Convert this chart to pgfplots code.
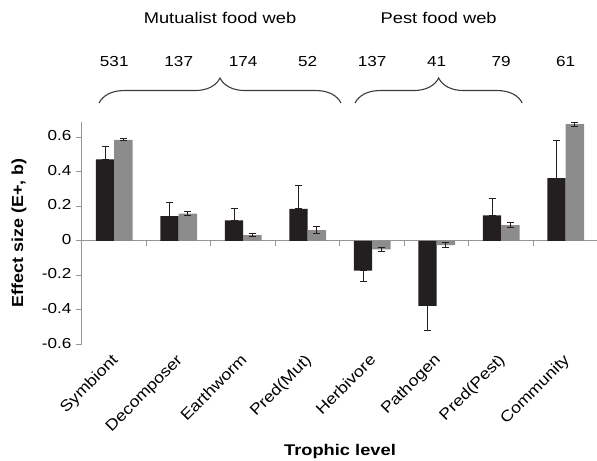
\documentclass[border=0pt]{standalone}
\usepackage{pgfplots}
\pgfplotsset{compat=1.18}
\usepackage{fontspec}
\setmainfont{Liberation Sans}
\newfontfamily\wide{Liberation Sans}[FakeStretch=1.18]
\usetikzlibrary{decorations.pathreplacing}
\definecolor{barblack}{RGB}{35,31,32}
\definecolor{bargrey}{RGB}{140,140,140}
\definecolor{axisgrey}{RGB}{150,150,150}
\definecolor{bracegrey}{RGB}{60,60,60}

\begin{document}
\fontsize{14.5}{18}\selectfont
\begin{tikzpicture}
\begin{axis}[
    scale only axis,
    width=516pt, height=222.7pt,
    xmin=-0.5, xmax=7.5,
    ymin=-0.6, ymax=0.69,
    clip=false,
    axis x line*=middle,
    axis y line*=left,
    axis line style={axisgrey, line width=1pt},
    hide obscured x ticks=false,
    hide obscured y ticks=false,
    tick align=outside,
    major tick length=5.5pt,
    minor tick length=5pt,
    ytick={-0.6,-0.4,-0.2,0,0.2,0.4,0.6},
    ytick style={axisgrey, line width=1pt},
    yticklabel style={font=\wide, /pgf/number format/.cd, fixed, precision=1, assume math mode=true},
    xtick={0,...,7},
    xticklabels={Symbiont,Decomposer,Earthworm,Pred(Mut),Herbivore,Pathogen,Pred(Pest),Community},
    minor xtick={0.5,1.5,...,6.5},
    major x tick style={draw=none},
    minor x tick style={axisgrey, line width=1pt},
    typeset ticklabels with strut,
    xticklabel style={xshift=6pt, yshift=-108pt, rotate=45, xscale=1.15,
        anchor=east, font=\fontsize{15.5}{18}\selectfont},
    every axis x label/.style={at={(axis description cs:0.5,0)}, anchor=base,
        yshift=-110.7pt, font=\fontsize{15.5}{19}\wide\bfseries},
    every axis y label/.style={at={(axis description cs:-0.122,0.5)}, anchor=center,
        rotate=90, xscale=1.12, font=\fontsize{16}{19}\selectfont\bfseries},
    xlabel={Trophic level},
    ylabel={Effect size (E+, b)},
    ybar=0pt,
    bar width=18.3pt,
]
% E+ effect, black bars (error bars point away from zero)
\addplot[fill=barblack, draw=none,
    error bars/.cd, y dir=both, y explicit,
    error bar style={barblack, line width=1pt},
    error mark options={rotate=90, mark size=3.5pt, barblack, line width=1pt}]
coordinates {
    (0,0.472)  += (0,0.073) -= (0,0)
    (1,0.143)  += (0,0.079) -= (0,0)
    (2,0.118)  += (0,0.067) -= (0,0)
    (3,0.185)  += (0,0.138) -= (0,0)
    (4,-0.172) += (0,0) -= (0,0.066)
    (5,-0.377) += (0,0) -= (0,0.140)
    (6,0.147)  += (0,0.098) -= (0,0)
    (7,0.363)  += (0,0.219) -= (0,0)
};
% grey bars
\addplot[fill=bargrey, draw=none,
    error bars/.cd, y dir=both, y explicit,
    error bar style={barblack, line width=1pt},
    error mark options={rotate=90, mark size=3.5pt, barblack, line width=1pt}]
coordinates {
    (0,0.585)  +- (0,0.005)
    (1,0.157)  +- (0,0.010)
    (2,0.033)  +- (0,0.008)
    (3,0.062)  +- (0,0.022)
    (4,-0.050) +- (0,0.010)
    (5,-0.025) +- (0,0.016)
    (6,0.091)  +- (0,0.014)
    (7,0.676)  +- (0,0.012)
};

% sample sizes and food web groups above the bars
\begin{scope}[every node/.style={anchor=base, font=\wide}]
\node at (axis cs:0,1.012) {531};
\node at (axis cs:1,1.012) {137};
\node at (axis cs:2,1.012) {174};
\node at (axis cs:3,1.012) {52};
\node at (axis cs:4,1.012) {137};
\node at (axis cs:5,1.012) {41};
\node at (axis cs:6,1.012) {79};
\node at (axis cs:7,1.012) {61};
\node[font=\fontsize{15.5}{19}\wide] at (axis cs:1.64,1.26) {Mutualist food web};
\node[font=\fontsize{15.5}{19}\wide] at (axis cs:5.03,1.26) {Pest food web};
\end{scope}
\draw[bracegrey, line width=1.1pt, decorate, decoration={brace, amplitude=25pt}]
    (axis cs:-0.236,0.798) -- (axis cs:3.516,0.798);
\draw[bracegrey, line width=1.1pt, decorate, decoration={brace, amplitude=25pt}]
    (axis cs:3.733,0.798) -- (axis cs:6.326,0.798);
\end{axis}
\pgfresetboundingbox
\path[use as bounding box] (-82pt,-115.7pt) rectangle (515pt,344.4pt);
\end{tikzpicture}
\end{document}
